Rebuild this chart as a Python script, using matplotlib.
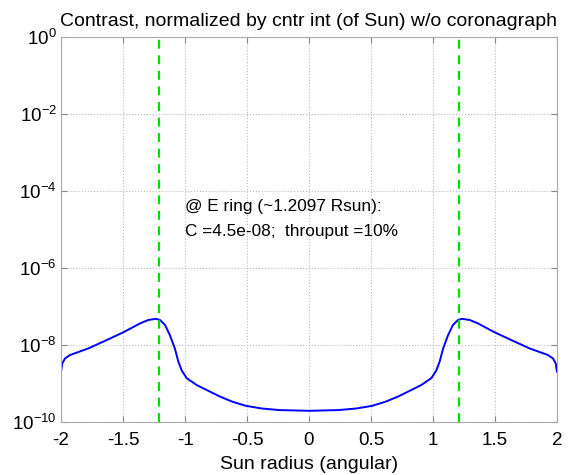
import numpy as np
import matplotlib
matplotlib.use('Agg')
import matplotlib.pyplot as plt
from matplotlib.ticker import FixedLocator, FuncFormatter

plt.rcParams['font.family'] = ['Liberation Sans', 'DejaVu Sans']
plt.rcParams['mathtext.fontset'] = 'custom'
plt.rcParams['mathtext.rm'] = 'Liberation Sans'

# contrast curve (x in Sun radii, log10 of contrast)
sun_r = [-2.0, -1.99, -1.968, -1.927, -1.78, -1.651, -1.497, -1.363, -1.296,
         -1.234, -1.202, -1.161, -1.121, -1.081, -1.054, -1.027, -0.987,
         -0.906, -0.825, -0.718, -0.62, -0.51, -0.38, -0.24, 0.0,
         0.24, 0.38, 0.51, 0.62, 0.718, 0.825, 0.906, 0.987, 1.027, 1.054,
         1.081, 1.121, 1.161, 1.202, 1.234, 1.296, 1.363, 1.497, 1.651, 1.78,
         1.927, 1.968, 1.99, 2.0]
log_c = [-8.69, -8.48, -8.35, -8.26, -8.09, -7.90, -7.67, -7.44, -7.35,
         -7.32, -7.35, -7.48, -7.75, -8.10, -8.43, -8.66, -8.86,
         -9.04, -9.17, -9.34, -9.47, -9.58, -9.65, -9.69, -9.71,
         -9.69, -9.65, -9.58, -9.47, -9.34, -9.17, -9.04, -8.86, -8.66, -8.43,
         -8.10, -7.75, -7.48, -7.35, -7.32, -7.35, -7.44, -7.67, -7.90, -8.09,
         -8.26, -8.35, -8.48, -8.69]
ring_r = 1.2097
y_exps = [0, -2, -4, -6, -8, -10]
x_ticks = [-2, -1.5, -1, -0.5, 0, 0.5, 1, 1.5, 2]

contrast = 10.0 ** np.array(log_c)

fig = plt.figure(figsize=(5.73, 4.75), dpi=100)
ax = fig.add_axes([0.1065, 0.1116, 0.8655, 0.8105])

ax.plot(sun_r, contrast, color='#0000ff', lw=1.4)
for xr in (-ring_r, ring_r):
    ax.axvline(xr, color='#00dd00', lw=1.6, ls=(0, (4, 3)))

ax.set_yscale('log')
ax.set_xlim(-2, 2)
ax.set_ylim(1e-10, 1e0)
ax.yaxis.set_major_locator(FixedLocator([10.0 ** e for e in y_exps]))
ax.yaxis.set_minor_locator(FixedLocator([]))
ax.yaxis.set_major_formatter(FuncFormatter(
    lambda v, p: r'$\mathregular{10^{%d}}$' % round(np.log10(v))))
ax.set_xticks(x_ticks)
ax.set_xticklabels(['%g' % t for t in x_ticks])

ax.grid(True, ls=':', color='#bbbbbb', lw=0.8)
ax.tick_params(direction='in', top=True, right=True, length=4,
               color='#888888', labelsize=13.5, pad=7)
ax.tick_params(axis='y', pad=3)
for s in ax.spines.values():
    s.set_color('#aaaaaa')

ax.set_title('Contrast, normalized by cntr int (of Sun) w/o coronagraph',
             fontsize=14, pad=8)
ax.set_xlabel('Sun radius (angular)', fontsize=14, labelpad=5)

ax.text(-1.0, 10 ** -4.40, '@ E ring (~1.2097 Rsun):', fontsize=12.4,
        va='center')
ax.text(-1.0, 10 ** -5.05, 'C =4.5e-08;  throuput =10%', fontsize=12.4,
        va='center')

fig.savefig('out.png', dpi=100)
